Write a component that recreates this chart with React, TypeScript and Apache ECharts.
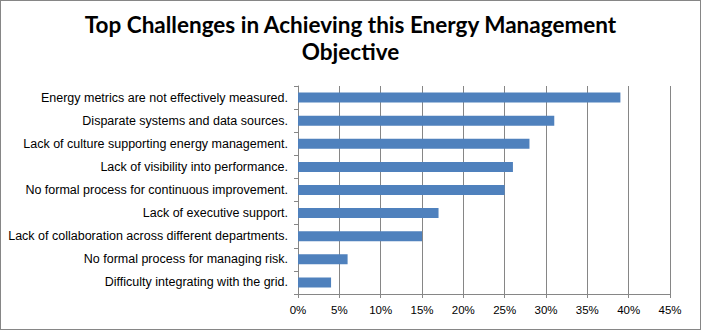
import React, { useEffect, useRef } from "react";
import * as echarts from "echarts";

const categories = [
  "Energy metrics are not effectively measured.",
  "Disparate systems and data sources.",
  "Lack of culture supporting energy management.",
  "Lack of visibility into performance.",
  "No formal process for continuous improvement.",
  "Lack of executive support.",
  "Lack of collaboration across different departments.",
  "No formal process for managing risk.",
  "Difficulty integrating with the grid.",
];
const values = [39, 31, 28, 26, 25, 17, 15, 6, 4];
const titleText = "Top Challenges in Achieving this Energy Management\nObjective";

export default function App() {
  const ref = useRef<HTMLDivElement>(null);
  useEffect(() => {
    document.body.style.margin = "0";
    const chart = echarts.init(ref.current!, null, { renderer: "svg" });
    chart.setOption({
      animation: false,
      backgroundColor: "#ffffff",
      title: {
        text: titleText,
        left: "center",
        top: 5,
        textStyle: {
          fontFamily: "Lato",
          fontWeight: "bold",
          fontSize: 22.5,
          lineHeight: 27,
          color: "#000000",
        },
      },
      grid: { left: 297, right: 30, top: 85, bottom: 35, containLabel: false },
      xAxis: {
        type: "value",
        min: 0,
        max: 45,
        interval: 5,
        axisLine: { show: true, lineStyle: { color: "#868686" } },
        axisTick: { show: true, length: 4, lineStyle: { color: "#868686" } },
        axisLabel: {
          formatter: "{value}%",
          color: "#000000",
          fontFamily: "Liberation Sans",
          fontSize: 11.5,
          margin: 10,
        },
        splitLine: { show: true, lineStyle: { color: "#868686", width: 1 } },
      },
      yAxis: {
        type: "category",
        data: categories,
        inverse: true,
        axisLine: { show: true, lineStyle: { color: "#868686" } },
        axisTick: { show: true, length: 4, lineStyle: { color: "#868686" } },
        axisLabel: {
          color: "#000000",
          fontFamily: "Liberation Sans",
          fontSize: 12.5,
          margin: 10,
        },
      },
      series: [
        {
          type: "bar",
          data: values,
          barWidth: 10,
          itemStyle: { color: "#4f81bd" },
        },
      ],
    });
    return () => chart.dispose();
  }, []);
  return (
    <div
      style={{
        width: 701,
        height: 330,
        boxSizing: "border-box",
        border: "1px solid #868686",
        position: "relative",
      }}
    >
      <div ref={ref} style={{ width: 699, height: 328 }} />
    </div>
  );
}
